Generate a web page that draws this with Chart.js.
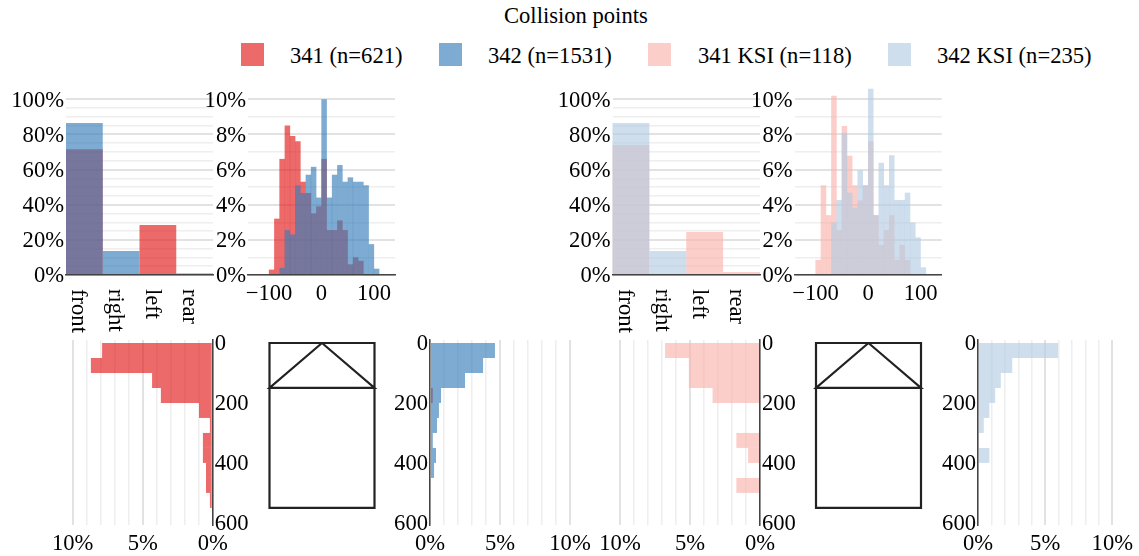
<!DOCTYPE html>
<html lang="en">
<head>
<meta charset="UTF-8">
<title>Collision points</title>
<script src="https://cdn.jsdelivr.net/npm/chart.js"></script>
<style>
    html, body { margin: 0; padding: 0; background: #fff; overflow: hidden; }
    body { width: 1139px; height: 556px; position: relative; font-family: "Liberation Serif", serif; font-size: 22.6px; color: #000; }
    canvas { position: absolute; left: 0; top: 0; }
    .title { position: absolute; left: 504px; top: 3px; line-height: 26px; white-space: nowrap; }
    .swatch { position: absolute; top: 43px; width: 23px; height: 23px; }
    .label { position: absolute; top: 43px; line-height: 26px; white-space: nowrap; }
</style>
</head>
<body>
<div class="title">Collision points</div>
<div id="legend"></div>

<script>
// impact side, percent of each group
const sideLabels = ['front', 'right', 'left', 'rear'];
const side341 = [71.6, 0.3, 28.5, 0.8];
const side342 = [86.5, 13.7, 0, 0];
const side341Ksi = [74, 0, 24.5, 1.7];
const side342Ksi = [86.5, 13.7, 0, 0];

// lateral position, 10 wide bins (centres)
const lateralBins = [-95, -85, -75, -65, -55, -45, -35, -25, -15, -5, 5, 15, 25, 35, 45, 55, 65, 75, 85, 95, 105];
const lateral341 = [0.3, 3.2, 6.6, 8.5, 7.9, 7.6, 5.3, 4.66, 3.5, 3.9, 6.6, 2.55, 2.55, 3.1, 2.55, 0.6, 1.0, 0.8, 0, 0, 0];
const lateral342 = [0, 0, 0.4, 2.55, 2.3, 5.1, 4.66, 5.7, 6.15, 4.4, 10.0, 4.4, 5.7, 6.25, 5.3, 5.55, 5.3, 5.3, 5.1, 1.75, 0.35];
const lateral341Ksi = [0.85, 5.1, 3.4, 10.2, 2.55, 8.47, 6.78, 5.1, 4.24, 5.1, 7.6, 3.4, 1.7, 2.55, 3.4, 0.85, 1.7, 0.85, 0, 0, 0];
const lateral342Ksi = [0, 0, 0, 2.98, 4.26, 8.09, 4.68, 3.83, 5.96, 5.1, 10.6, 3.4, 6.38, 5.1, 6.81, 4.26, 4.26, 4.68, 2.98, 2.13, 0.43];
const lateralTicks = [-100, 0, 100];

// distance along vehicle, 50 wide bins (centres)
const lengthBins = [25, 75, 125, 175, 225, 275, 325, 375, 425, 475, 525, 575];
const length341 = [7.9, 8.7, 4.33, 3.7, 0.98, 0.2, 0.7, 0.7, 0.48, 0.48, 0.2, 0];
const length342 = [4.64, 3.79, 2.5, 0.79, 0.64, 0.5, 0.2, 0.43, 0.29, 0, 0, 0];
const length342Sliver = [0, 0, 0, 0.2, 0, 0, 0, 0, 0, 0, 0, 0];
const length341Ksi = [6.78, 5.08, 5.08, 3.39, 0, 0, 1.69, 0.85, 0, 1.69, 0, 0];
const length342Ksi = [5.96, 2.55, 1.7, 1.28, 0.85, 0.43, 0, 0.85, 0, 0, 0, 0];
const lengthTicks = [0, 200, 400, 600];

// vehicle outline, in the same units as the length axis
const vehicleX = [0, -175, 175, 0, -175, -175, 175, 175, 0];
const vehicleY = [0, 150, 150, 0, 0, 550, 550, 0, 0];

const legendNames = ['341 (n=621)', '342 (n=1531)', '341 KSI (n=118)', '342 KSI (n=235)'];

const RED = 'rgba(228,26,28,0.65)';
const BLUE = 'rgba(55,126,184,0.65)';
const PINK = 'rgba(251,180,174,0.65)';
const SKY = 'rgba(179,205,227,0.65)';

const legendSwatchX = [241, 439, 648, 888];
const legendTextX = [290, 488, 698, 937];
const legendColors = [RED, BLUE, PINK, SKY];

const legend = document.getElementById('legend');
legendNames.forEach((name, i) => {
    const s = document.createElement('div');
    s.className = 'swatch';
    s.style.left = legendSwatchX[i] + 'px';
    s.style.background = legendColors[i];
    legend.appendChild(s);
    const t = document.createElement('div');
    t.className = 'label';
    t.style.left = legendTextX[i] + 'px';
    t.textContent = name;
    legend.appendChild(t);
});

const TICK_FONT = 22.6;

Chart.defaults.font.family = '"Liberation Serif", serif';
Chart.defaults.font.size = TICK_FONT;
Chart.defaults.color = '#000';
Chart.defaults.animation = false;
Chart.defaults.responsive = false;
Chart.defaults.plugins.legend.display = false;
Chart.defaults.plugins.tooltip.enabled = false;

const PAGE_W = 1139;
const PAGE_H = 556;
const AXIS_COLOR = '#444';
const Y_AXIS_W = 60;
const X_AXIS_H = 31;

// every chart gets a full page canvas, the padding puts its plot area in place
function addChart(box, config, axisRoom) {
    const room = Object.assign({ left: 0, right: 0, bottom: 0 }, axisRoom);
    const canvas = document.createElement('canvas');
    canvas.width = PAGE_W;
    canvas.height = PAGE_H;
    document.body.appendChild(canvas);
    config.options.layout = {
        padding: {
            left: box.left - room.left,
            top: box.top,
            right: PAGE_W - box.right - room.right,
            bottom: PAGE_H - box.bottom - room.bottom
        }
    };
    return new Chart(canvas, config);
}

const fixedSize = {
    afterFit: s => {
        if (s.isHorizontal()) s.height = X_AXIS_H; else s.width = Y_AXIS_W;
    }
};

function gridStyle(major) {
    return {
        drawTicks: false,
        color: c => (c.tick && c.tick.value % major === 0) ? '#e2e2e2' : '#eeeeee',
        lineWidth: c => (c.tick && c.tick.value % major === 0) ? 2 : 1.5
    };
}

function percentAxis(max, step, major) {
    return {
        ...fixedSize,
        min: 0,
        max: max,
        grid: gridStyle(major),
        border: { display: false },
        ticks: {
            stepSize: step,
            autoSkip: false,
            maxRotation: 0,
            padding: 2,
            labelOffset: 1.5,
            callback: v => (v % major === 0 ? v + '%' : '')
        }
    };
}

// labels run top to bottom, chart.js only rotates the other way
const sideLabelPlugin = {
    id: 'sideLabels',
    afterDraw(chart) {
        const { ctx } = chart;
        const scale = chart.scales.x;
        ctx.save();
        ctx.font = TICK_FONT + 'px "Liberation Serif", serif';
        ctx.fillStyle = '#000';
        ctx.textAlign = 'left';
        ctx.textBaseline = 'alphabetic';
        sideLabels.forEach((label, i) => {
            ctx.save();
            ctx.translate(scale.getPixelForValue(i) - 12, scale.top + 14);
            ctx.rotate(Math.PI / 2);
            ctx.fillText(label, 0, 0);
            ctx.restore();
        });
        ctx.restore();
    }
};

function barDataset(data, color, inflate) {
    return {
        data: data,
        backgroundColor: color,
        borderWidth: 0,
        grouped: false,
        barPercentage: 1,
        categoryPercentage: 1,
        inflateAmount: inflate || 0,
        clip: false
    };
}

// chart.js paints the first dataset last, so "top" goes first
function sideChart(box, under, top, colors) {
    addChart(box, {
        type: 'bar',
        data: {
            labels: sideLabels,
            datasets: [barDataset(top, colors[1]), barDataset(under, colors[0])]
        },
        options: {
            scales: {
                x: {
                    afterFit: s => { s.height = 0; },
                    grid: { display: false, drawTicks: false },
                    border: { color: AXIS_COLOR, width: 1.5, z: 1 },
                    ticks: { display: false }
                },
                y: percentAxis(100, 5, 20)
            }
        },
        plugins: [sideLabelPlugin]
    }, { left: Y_AXIS_W });
}

function lateralChart(box, under, top, colors) {
    addChart(box, {
        type: 'bar',
        data: {
            labels: lateralBins,
            // bins land on fractions of a pixel, a little inflate hides the seams
            datasets: [barDataset(top, colors[1], 0.13), barDataset(under, colors[0], 0.13)]
        },
        options: {
            scales: {
                x: {
                    ...fixedSize,
                    type: 'linear',
                    offset: false,
                    min: -140,
                    max: 140,
                    grid: { display: false, drawTicks: false, offset: false },
                    border: { color: AXIS_COLOR, width: 1.5, z: 1 },
                    afterBuildTicks: s => { s.ticks = lateralTicks.map(v => ({ value: v })); },
                    ticks: {
                        autoSkip: false,
                        maxRotation: 0,
                        padding: 6,
                        callback: v => String(v).replace('-', '\u2212')
                    }
                },
                y: percentAxis(10, 1, 2)
            }
        }
    }, { left: Y_AXIS_W, bottom: X_AXIS_H });
}

function lengthChart(box, mirrored, series) {
    addChart(box, {
        type: 'bar',
        data: {
            labels: lengthBins,
            datasets: series.map(s => barDataset(s.data, s.color))
        },
        options: {
            indexAxis: 'y',
            scales: {
                x: {
                    ...percentAxis(10, 1, 5),
                    reverse: mirrored,
                    ticks: {
                        stepSize: 1,
                        autoSkip: false,
                        maxRotation: 0,
                        padding: 6,
                        callback: v => (v % 5 === 0 ? v + '%' : '')
                    }
                },
                y: {
                    ...fixedSize,
                    type: 'linear',
                    offset: false,
                    reverse: true,
                    position: mirrored ? 'right' : 'left',
                    min: -10,
                    max: 607,
                    grid: { display: false, drawTicks: false, offset: false },
                    border: { color: AXIS_COLOR, width: 1.5, z: 1 },
                    afterBuildTicks: s => { s.ticks = lengthTicks.map(v => ({ value: v })); },
                    ticks: { autoSkip: false, padding: 2, labelOffset: 1.5 }
                }
            }
        }
    }, mirrored ? { right: Y_AXIS_W, bottom: X_AXIS_H } : { left: Y_AXIS_W, bottom: X_AXIS_H });
}

function vehicleChart(box) {
    addChart(box, {
        type: 'scatter',
        data: {
            datasets: [{
                data: vehicleX.map((x, i) => ({ x: x, y: vehicleY[i] })),
                showLine: true,
                tension: 0,
                pointRadius: 0,
                borderColor: '#222',
                borderWidth: 2.2,
                clip: false
            }]
        },
        options: {
            scales: {
                x: { display: false, min: -175, max: 175 },
                y: { display: false, reverse: true, min: -10, max: 607 }
            }
        }
    });
}

const TOP_ROW = { top: 99.3, bottom: 275 };
const LOW_ROW = { top: 340, bottom: 525 };

sideChart({ left: 66, right: 213, ...TOP_ROW }, side341, side342, [RED, BLUE]);
lateralChart({ left: 248, right: 395, ...TOP_ROW }, lateral341, lateral342, [RED, BLUE]);
sideChart({ left: 612.5, right: 760, ...TOP_ROW }, side341Ksi, side342Ksi, [PINK, SKY]);
lateralChart({ left: 794.5, right: 941.7, ...TOP_ROW }, lateral341Ksi, lateral342Ksi, [PINK, SKY]);

lengthChart({ left: 72.7, right: 212.7, ...LOW_ROW }, true, [{ data: length341, color: RED }]);
vehicleChart({ left: 269.5, right: 374.5, ...LOW_ROW });
lengthChart({ left: 430, right: 570, ...LOW_ROW }, false, [{ data: length342, color: BLUE }, { data: length342Sliver, color: RED }]);

lengthChart({ left: 620, right: 760, ...LOW_ROW }, true, [{ data: length341Ksi, color: PINK }]);
vehicleChart({ left: 816, right: 921, ...LOW_ROW });
lengthChart({ left: 978, right: 1118, ...LOW_ROW }, false, [{ data: length342Ksi, color: SKY }]);
</script>
</body>
</html>
